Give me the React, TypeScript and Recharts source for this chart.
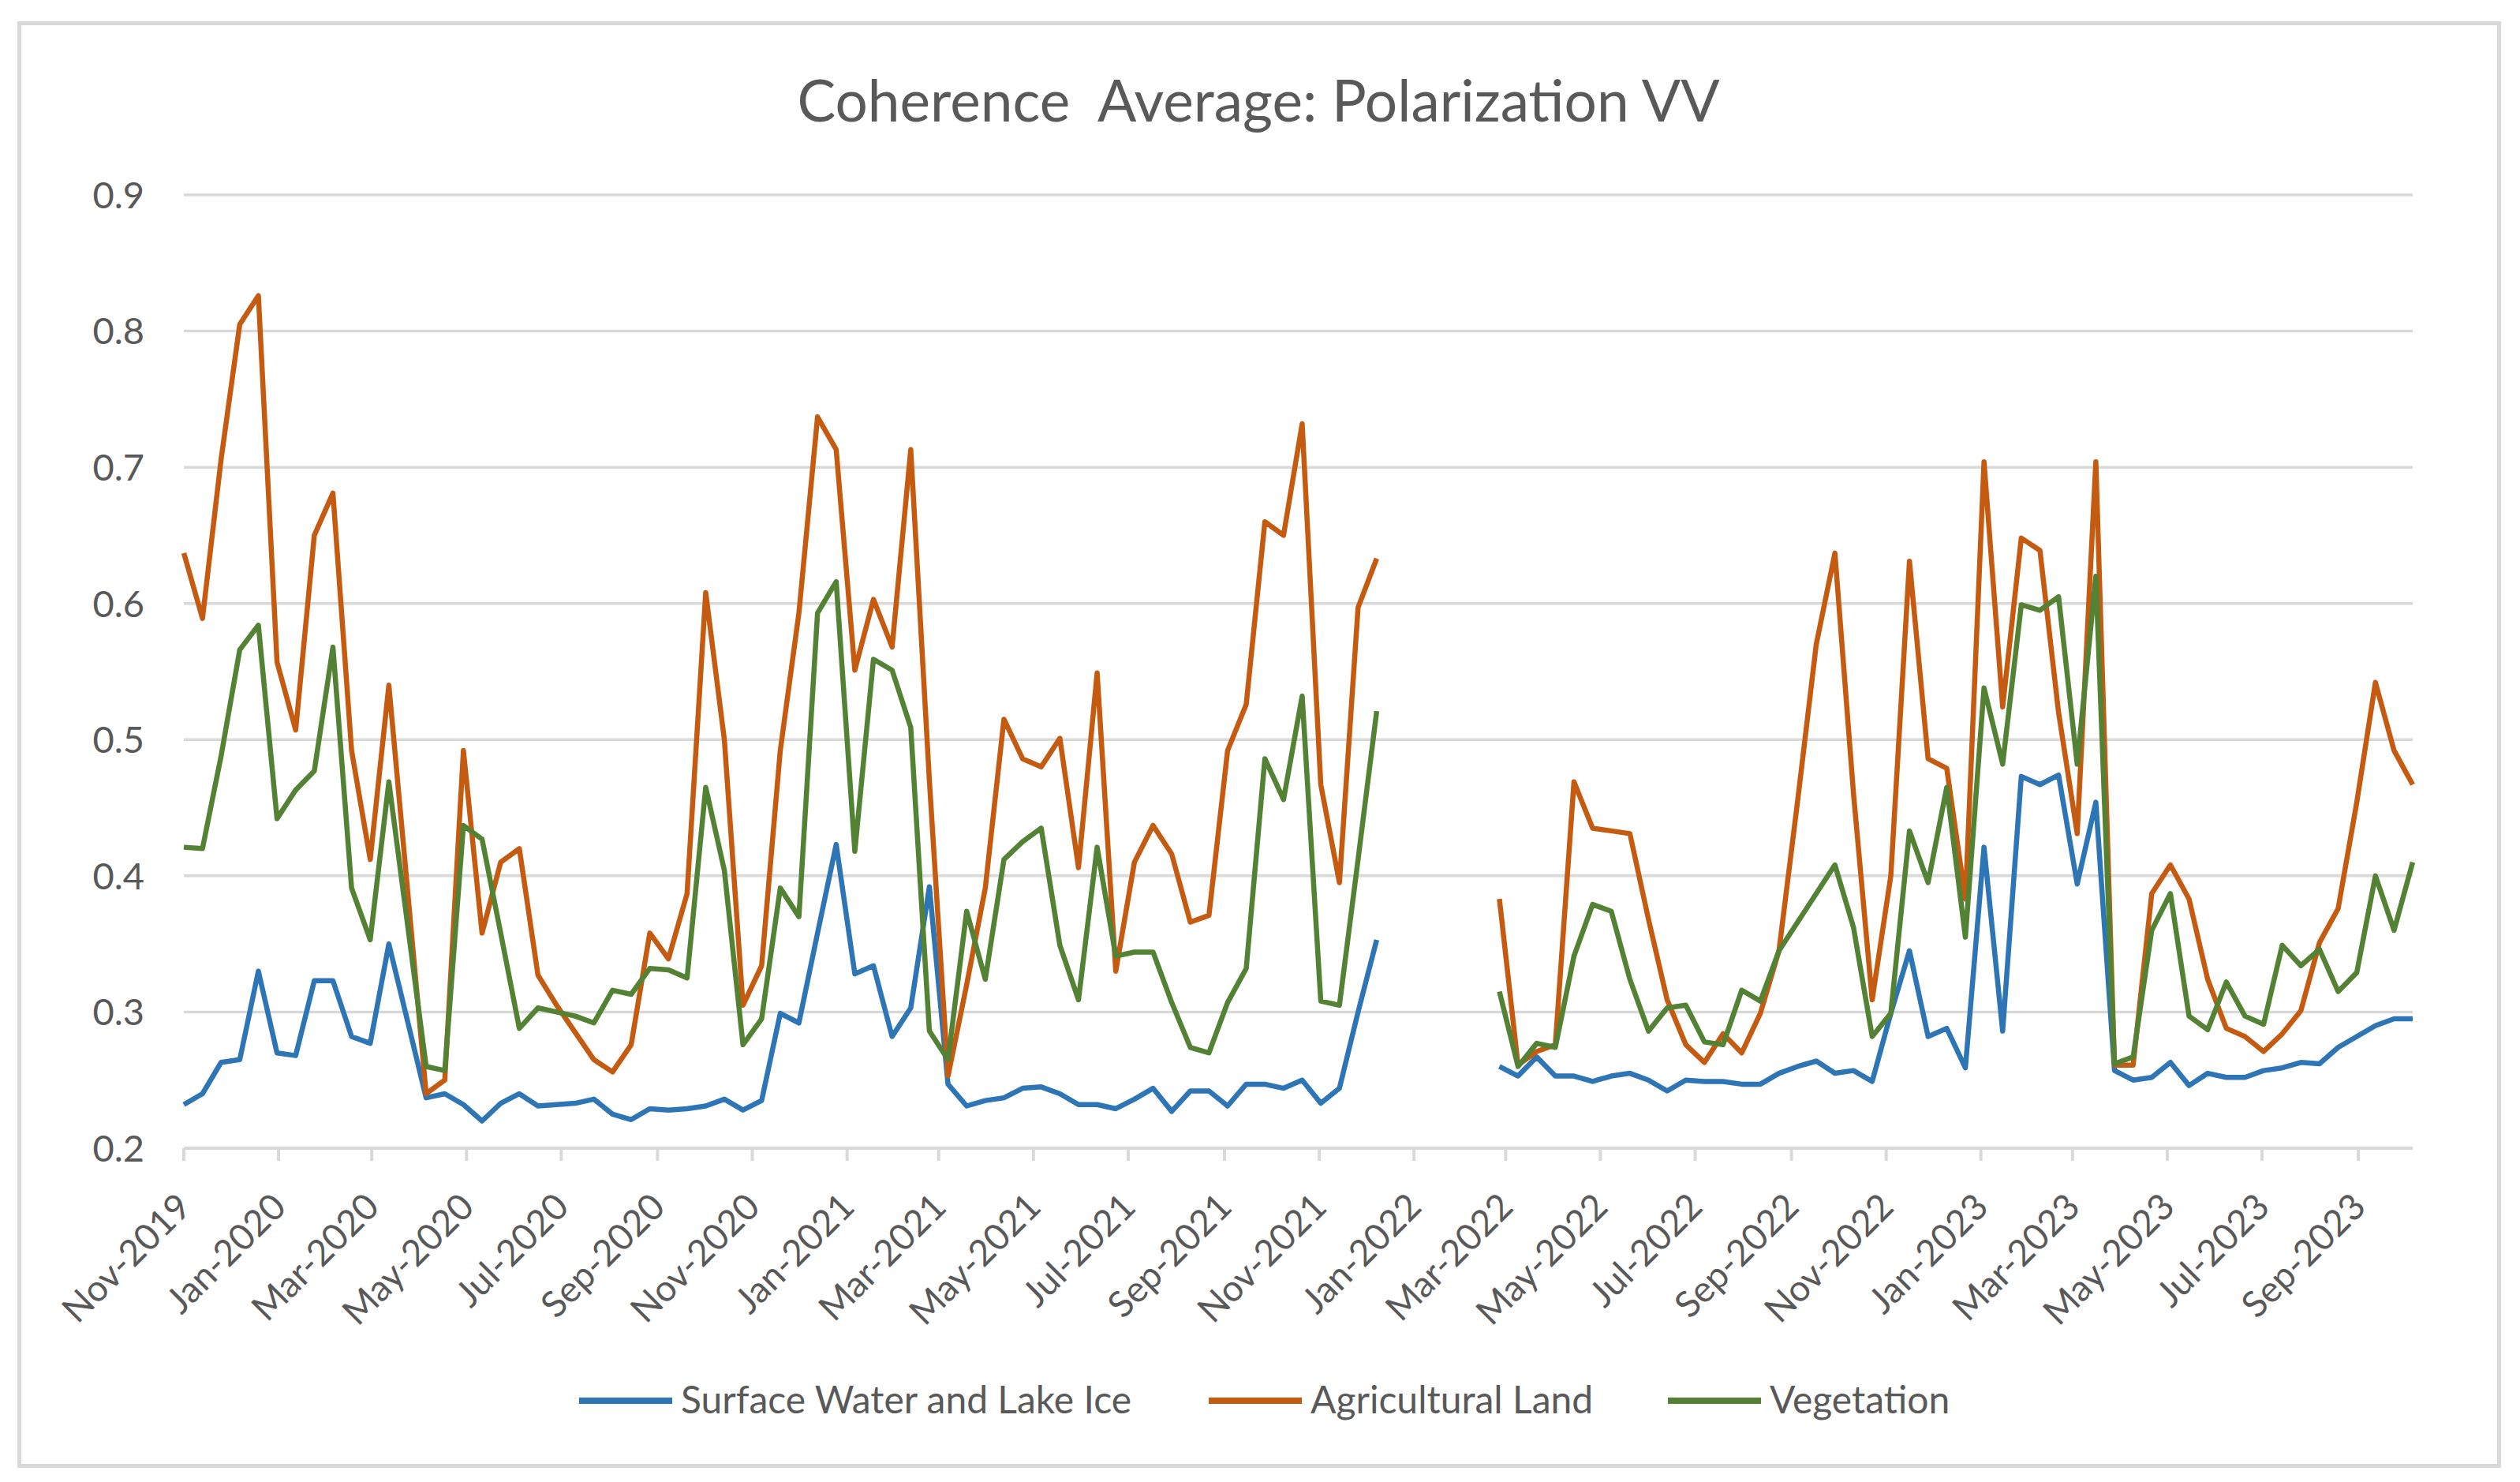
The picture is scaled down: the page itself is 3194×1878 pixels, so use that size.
import React from "react";
import { LineChart, Line, XAxis, YAxis, CartesianGrid } from "recharts";

// days since 1 Nov 2019 (12-day repeat); 808 marks the data gap (Dec 2021 - Feb 2022)
const acquisitionDay = [
  0, 12, 24, 36, 48, 60, 72, 84, 96, 108,
  120, 132, 156, 168, 180, 192, 204, 216, 228, 240,
  252, 264, 276, 288, 300, 312, 324, 336, 348, 360,
  372, 384, 396, 408, 420, 432, 444, 456, 468, 480,
  492, 504, 516, 528, 540, 552, 564, 576, 588, 600,
  612, 624, 636, 648, 660, 672, 684, 696, 708, 720,
  732, 744, 756, 768,
  808,
  847, 859, 871, 883, 895, 907, 919, 931, 943, 955,
  967, 979, 991, 1003, 1015, 1027, 1039, 1051, 1063, 1075,
  1087, 1099, 1111, 1123, 1135, 1147, 1159, 1171, 1183, 1195,
  1207, 1219, 1231, 1243, 1255, 1267, 1279, 1291, 1303, 1315,
  1327, 1339, 1351, 1363, 1375, 1387, 1399, 1411, 1423, 1435
];

const surfaceWater = [
  0.232, 0.240, 0.263, 0.265, 0.330, 0.270, 0.268, 0.323, 0.323, 0.282,
  0.277, 0.350, 0.237, 0.240, 0.232, 0.220, 0.233, 0.240, 0.231, 0.232,
  0.233, 0.236, 0.225, 0.221, 0.229, 0.228, 0.229, 0.231, 0.236, 0.228,
  0.235, 0.299, 0.292, 0.358, 0.423, 0.328, 0.334, 0.282, 0.303, 0.392,
  0.247, 0.231, 0.235, 0.237, 0.244, 0.245, 0.240, 0.232, 0.232, 0.229,
  0.236, 0.244, 0.227, 0.242, 0.242, 0.231, 0.247, 0.247, 0.244, 0.250,
  0.233, 0.244, 0.300, 0.353,
  null,
  0.260, 0.253, 0.267, 0.253, 0.253, 0.249, 0.253, 0.255, 0.250, 0.242,
  0.250, 0.249, 0.249, 0.247, 0.247, 0.255, 0.260, 0.264, 0.255, 0.257,
  0.249, 0.299, 0.345, 0.282, 0.288, 0.259, 0.421, 0.286, 0.473, 0.467,
  0.474, 0.394, 0.454, 0.257, 0.250, 0.252, 0.263, 0.246, 0.255, 0.252,
  0.252, 0.257, 0.259, 0.263, 0.262, 0.274, 0.282, 0.290, 0.295, 0.295
];

const agriculturalLand = [
  0.637, 0.589, 0.706, 0.805, 0.826, 0.557, 0.507, 0.650, 0.681, 0.492,
  0.412, 0.540, 0.240, 0.250, 0.492, 0.358, 0.410, 0.420, 0.327, 0.305,
  0.285, 0.265, 0.256, 0.276, 0.358, 0.339, 0.387, 0.608, 0.500, 0.305,
  0.334, 0.492, 0.593, 0.737, 0.713, 0.551, 0.603, 0.568, 0.713, 0.470,
  0.253, 0.320, 0.391, 0.515, 0.486, 0.480, 0.501, 0.406, 0.549, 0.330,
  0.410, 0.437, 0.416, 0.366, 0.371, 0.492, 0.526, 0.660, 0.650, 0.732,
  0.467, 0.395, 0.597, 0.633,
  null,
  0.383, 0.261, 0.271, 0.276, 0.469, 0.435, 0.433, 0.431, 0.368, 0.309,
  0.276, 0.263, 0.284, 0.270, 0.299, 0.345, 0.455, 0.570, 0.637, 0.460,
  0.309, 0.400, 0.631, 0.486, 0.479, 0.383, 0.704, 0.524, 0.648, 0.639,
  0.520, 0.431, 0.704, 0.261, 0.261, 0.387, 0.408, 0.383, 0.324, 0.288,
  0.282, 0.271, 0.284, 0.301, 0.351, 0.376, 0.454, 0.542, 0.492, 0.467
];

const vegetation = [
  0.421, 0.420, 0.488, 0.566, 0.584, 0.442, 0.463, 0.477, 0.568, 0.391,
  0.353, 0.469, 0.260, 0.257, 0.437, 0.427, 0.358, 0.288, 0.303, 0.300,
  0.297, 0.292, 0.316, 0.313, 0.332, 0.331, 0.325, 0.465, 0.404, 0.276,
  0.295, 0.391, 0.370, 0.593, 0.616, 0.418, 0.559, 0.551, 0.509, 0.286,
  0.265, 0.374, 0.324, 0.412, 0.425, 0.435, 0.349, 0.309, 0.421, 0.341,
  0.344, 0.344, 0.307, 0.274, 0.270, 0.307, 0.332, 0.486, 0.456, 0.532,
  0.308, 0.305, 0.412, 0.521,
  null,
  0.315, 0.260, 0.277, 0.274, 0.341, 0.379, 0.374, 0.324, 0.286, 0.303,
  0.305, 0.278, 0.276, 0.316, 0.308, 0.345, 0.366, 0.387, 0.408, 0.362,
  0.282, 0.299, 0.433, 0.395, 0.465, 0.355, 0.538, 0.482, 0.599, 0.595,
  0.605, 0.482, 0.620, 0.262, 0.267, 0.360, 0.387, 0.297, 0.287, 0.322,
  0.297, 0.291, 0.349, 0.334, 0.346, 0.315, 0.329, 0.400, 0.360, 0.410
];

const tickDays = [
  0, 61, 121, 182, 243, 305, 366, 427, 486, 547, 608, 670,
  731, 792, 851, 912, 973, 1035, 1096, 1157, 1216, 1277, 1338, 1400
];
const tickLabels = [
  "Nov-2019", "Jan-2020", "Mar-2020", "May-2020", "Jul-2020", "Sep-2020",
  "Nov-2020", "Jan-2021", "Mar-2021", "May-2021", "Jul-2021", "Sep-2021",
  "Nov-2021", "Jan-2022", "Mar-2022", "May-2022", "Jul-2022", "Sep-2022",
  "Nov-2022", "Jan-2023", "Mar-2023", "May-2023", "Jul-2023", "Sep-2023"
];
const yTicks = [0.2, 0.3, 0.4, 0.5, 0.6, 0.7, 0.8, 0.9];

const series = [
  { key: "water", name: "Surface Water and Lake Ice", color: "#2E75B6" },
  { key: "agri", name: "Agricultural Land", color: "#C55A11" },
  { key: "veg", name: "Vegetation", color: "#548235" }
];

const data = acquisitionDay.map((day, i) => ({
  day,
  water: surfaceWater[i],
  agri: agriculturalLand[i],
  veg: vegetation[i]
}));

const FONT = "Lato, 'Open Sans', sans-serif";
const TEXT = "#595959";
const GRID = "#d9d9d9";

const legendX = [734, 1532, 2114];

const DateTick = (props: any) => {
  const { x, y, payload } = props;
  const label = tickLabels[tickDays.indexOf(payload.value)];
  const ax = x + 12;
  const ay = y + 61;
  return (
    <text
      x={ax}
      y={ay}
      transform={`rotate(-45 ${ax} ${ay})`}
      textAnchor="end"
      fill={TEXT}
      fontSize={46}
      fontFamily={FONT}
    >
      {label}
    </text>
  );
};

const ValueTick = (props: any) => {
  const { x, y, payload } = props;
  return (
    <text x={x} y={y} dy="0.36em" textAnchor="end" fill={TEXT} fontSize={47} fontFamily={FONT}>
      {Number(payload.value).toFixed(1)}
    </text>
  );
};

export default function App() {
  return (
    <div style={{ position: "relative", width: 3194, height: 1878, background: "#fff" }}>
      <style>{"body{margin:0}"}</style>
      <div
        style={{
          position: "absolute",
          left: 22,
          top: 27,
          width: 3148,
          height: 1833,
          border: `5px solid ${GRID}`,
          boxSizing: "border-box"
        }}
      />
      <div style={{ position: "absolute", left: 0, top: 0 }}>
        <LineChart
          width={3194}
          height={1878}
          data={data}
          margin={{ top: 247, right: 136, left: 33, bottom: 303 }}
        >
          <CartesianGrid vertical={false} stroke={GRID} strokeWidth={3.5} />
          <XAxis
            dataKey="day"
            type="number"
            domain={[0, 1435]}
            ticks={tickDays}
            interval={0}
            height={120}
            tick={<DateTick />}
            axisLine={{ stroke: GRID, strokeWidth: 4 }}
            tickLine={{ stroke: GRID, strokeWidth: 4 }}
            tickSize={16}
            tickMargin={0}
          />
          <YAxis
            type="number"
            domain={[0.2, 0.9]}
            ticks={yTicks}
            width={200}
            axisLine={false}
            tickLine={false}
            tickSize={0}
            tickMargin={50}
            tick={<ValueTick />}
          />
          {series.map((s) => (
            <Line
              key={s.key}
              type="linear"
              dataKey={s.key}
              name={s.name}
              stroke={s.color}
              strokeWidth={6.5}
              strokeLinejoin="round"
              dot={false}
              activeDot={false}
              isAnimationActive={false}
            />
          ))}
        </LineChart>
      </div>
      <svg
        width={3194}
        height={1878}
        style={{ position: "absolute", left: 0, top: 0, pointerEvents: "none" }}
      >
        <text
          x={1595}
          y={154}
          textAnchor="middle"
          fill={TEXT}
          fontSize={73}
          fontFamily={FONT}
          style={{ whiteSpace: "pre" }}
        >
          {"Coherence  Average: Polarization VV"}
        </text>
        {series.map((s, i) => (
          <g key={s.key}>
            <line
              x1={legendX[i]}
              x2={legendX[i] + 118}
              y1={1775}
              y2={1775}
              stroke={s.color}
              strokeWidth={8}
            />
            <text x={legendX[i] + 129} y={1791} fill={TEXT} fontSize={48} fontFamily={FONT}>
              {s.name}
            </text>
          </g>
        ))}
      </svg>
    </div>
  );
}
